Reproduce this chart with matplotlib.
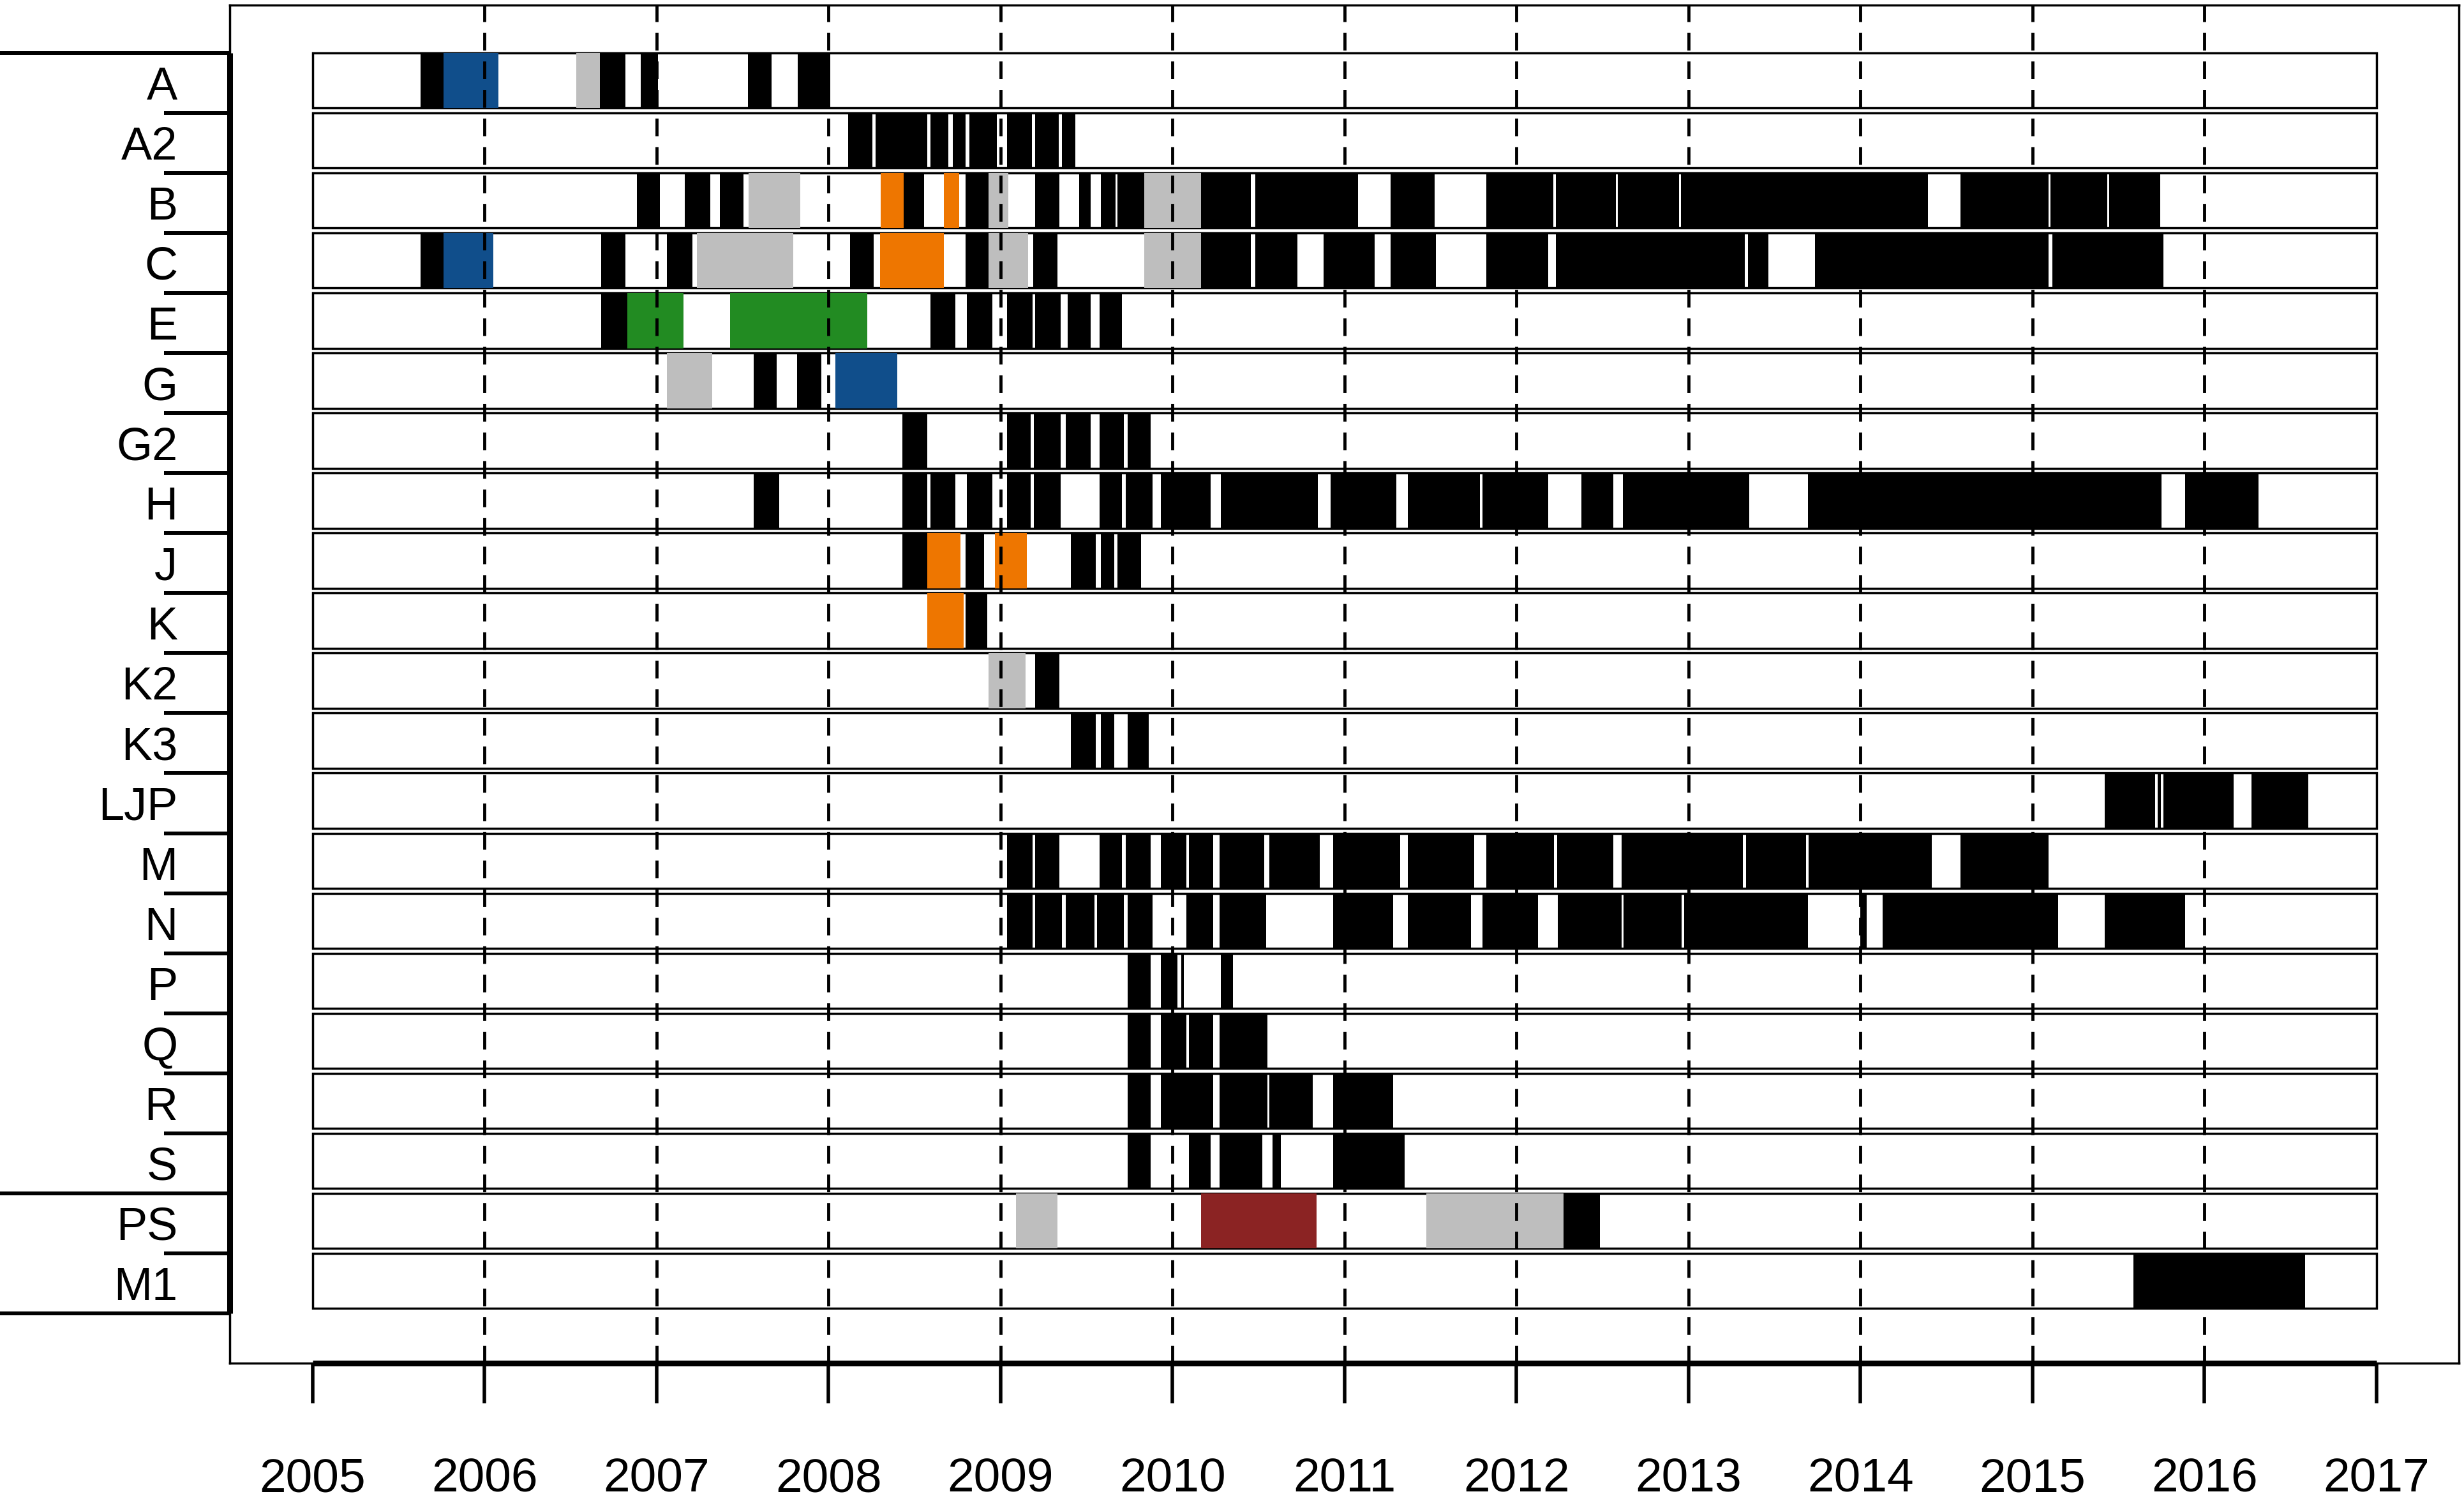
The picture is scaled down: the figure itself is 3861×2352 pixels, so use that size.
import matplotlib
matplotlib.use("Agg")
import matplotlib.pyplot as plt

plt.rcParams["font.family"] = ["Liberation Sans", "DejaVu Sans"]

# rows top to bottom
rows = ["A", "A2", "B", "C", "E", "G", "G2", "H", "J", "K", "K2", "K3",
        "LJP", "M", "N", "P", "Q", "R", "S", "PS", "M1"]
# last row of each group (long separator line below it)
group_ends = ["S", "M1"]
years = list(range(2005, 2018))
year_start, year_end = 2005, 2017

# black periods per row (start, end) in decimal years
black_A = [(2005.63, 2005.76), (2006.67, 2006.82), (2006.91, 2007.01), (2007.53, 2007.67),
           (2007.82, 2008.01)]
black_A2 = [(2008.115, 2008.255), (2008.274, 2008.573), (2008.593, 2008.698), (2008.721, 2008.798),
            (2008.818, 2008.977), (2009.040, 2009.183), (2009.202, 2009.338), (2009.358, 2009.435)]
black_B = [(2006.885, 2007.021), (2007.164, 2007.312), (2007.37, 2007.506), (2008.438, 2008.554),
           (2008.798, 2008.93), (2009.202, 2009.342), (2009.459, 2009.525), (2009.583, 2009.668),
           (2009.68, 2009.835), (2010.165, 2010.456), (2010.48, 2011.078), (2011.27, 2011.524),
           (2011.826, 2012.215), (2012.23, 2012.578), (2012.59, 2012.945), (2012.958, 2014.394),
           (2014.58, 2015.095), (2015.105, 2015.436), (2015.447, 2015.744)]
black_C = [(2005.63, 2005.76), (2006.68, 2006.82), (2007.06, 2007.21), (2008.127, 2008.263),
           (2008.798, 2008.93), (2009.19, 2009.33), (2010.165, 2010.456), (2010.48, 2010.725),
           (2010.88, 2011.175), (2011.27, 2011.53), (2011.826, 2012.183), (2012.23, 2013.327),
           (2013.347, 2013.463), (2013.735, 2015.092), (2015.116, 2015.76)]
black_E = [(2006.68, 2006.83), (2008.593, 2008.736), (2008.806, 2008.954), (2009.04, 2009.187),
           (2009.202, 2009.35), (2009.389, 2009.525), (2009.575, 2009.707)]
black_G = [(2007.564, 2007.70), (2007.816, 2007.96)]
black_G2 = [(2008.43, 2008.573), (2009.04, 2009.175), (2009.195, 2009.35), (2009.38, 2009.525),
            (2009.575, 2009.718), (2009.738, 2009.874)]
black_H = [(2007.564, 2007.712), (2008.43, 2008.573), (2008.593, 2008.736), (2008.806, 2008.954),
           (2009.04, 2009.175), (2009.195, 2009.35), (2009.575, 2009.707), (2009.73, 2009.886),
           (2009.932, 2010.223), (2010.28, 2010.845), (2010.92, 2011.30), (2011.368, 2011.787),
           (2011.803, 2012.183), (2012.377, 2012.563), (2012.618, 2013.355), (2013.696, 2015.752),
           (2015.888, 2016.314)]
black_J = [(2008.43, 2008.573), (2008.798, 2008.903), (2009.408, 2009.555), (2009.583, 2009.66),
           (2009.68, 2009.816)]
black_K = [(2008.798, 2008.923)]
black_K2 = [(2009.202, 2009.342)]
black_K3 = [(2009.408, 2009.555), (2009.583, 2009.66), (2009.738, 2009.862)]
black_LJP = [(2015.42, 2015.713), (2015.73, 2015.745), (2015.76, 2016.17), (2016.275, 2016.605)]
black_M = [(2009.04, 2009.187), (2009.202, 2009.342), (2009.575, 2009.707), (2009.73, 2009.874),
           (2009.932, 2010.08), (2010.095, 2010.235), (2010.274, 2010.534), (2010.565, 2010.856),
           (2010.934, 2011.322), (2011.368, 2011.756), (2011.826, 2012.218), (2012.237, 2012.563),
           (2012.61, 2013.318), (2013.335, 2013.682), (2013.70, 2014.413), (2014.58, 2015.092)]
black_N = [(2009.04, 2009.187), (2009.202, 2009.358), (2009.38, 2009.545), (2009.563, 2009.718),
           (2009.738, 2009.886), (2010.08, 2010.235), (2010.274, 2010.545), (2010.934, 2011.283),
           (2011.368, 2011.737), (2011.803, 2012.125), (2012.241, 2012.61), (2012.621, 2012.959),
           (2012.974, 2013.696), (2014.0, 2014.035), (2014.13, 2015.15), (2015.422, 2015.888)]
black_P = [(2009.738, 2009.874), (2009.932, 2010.03), (2010.05, 2010.065), (2010.282, 2010.352)]
black_Q = [(2009.738, 2009.874), (2009.932, 2010.08), (2010.095, 2010.235), (2010.274, 2010.553)]
black_R = [(2009.738, 2009.874), (2009.932, 2010.235), (2010.274, 2010.553), (2010.565, 2010.817),
           (2010.934, 2011.283)]
black_S = [(2009.738, 2009.874), (2010.095, 2010.22), (2010.274, 2010.522), (2010.58, 2010.63),
           (2010.934, 2011.35)]
black_PS = [(2012.272, 2012.486)]
black_M1 = [(2015.589, 2016.586)]

# coloured periods (row, start, end)
gray_spans = [("A", 2006.535, 2006.67), ("B", 2007.537, 2007.836), ("B", 2008.93, 2009.047),
              ("B", 2009.835, 2010.165), ("C", 2007.234, 2007.797), ("C", 2008.93, 2009.16),
              ("C", 2009.835, 2010.165), ("G", 2007.06, 2007.323), ("K2", 2008.93, 2009.147),
              ("PS", 2009.09, 2009.33), ("PS", 2011.477, 2012.272)]
blue_spans = [("A", 2005.76, 2006.08), ("C", 2005.76, 2006.05), ("G", 2008.04, 2008.399)]
orange_spans = [("B", 2008.302, 2008.438), ("B", 2008.67, 2008.76), ("C", 2008.30, 2008.67),
                ("J", 2008.573, 2008.767), ("J", 2008.969, 2009.155), ("K", 2008.573, 2008.787)]
green_spans = [("E", 2006.83, 2007.157), ("E", 2007.428, 2008.224)]
red_spans = [("PS", 2010.165, 2010.837)]

black_spans = [black_A, black_A2, black_B, black_C, black_E, black_G, black_G2, black_H,
               black_J, black_K, black_K2, black_K3, black_LJP, black_M, black_N, black_P,
               black_Q, black_R, black_S, black_PS, black_M1]

COLORS = {
    "gray":   "#BEBEBE",
    "blue":   "#104E8B",
    "orange": "#EE7600",
    "green":  "#228B22",
    "red":    "#8B2323",
}

ROW_H = 0.92  # bar height, top aligned with row boundary

fig = plt.figure(figsize=(38.62, 23.52), dpi=100, facecolor="white")
ax = fig.add_axes([0.0933, 0.0918, 0.9044, 0.9050])
ax.set_xlim(2004.52, 2017.48)
ax.set_ylim(21.33, -1.30)

idx = {r: i for i, r in enumerate(rows)}

# white row boxes
ax.barh([i - 0.5 for i in range(len(rows))], year_end - year_start, height=ROW_H,
        left=year_start, align="edge", color="white", edgecolor="black",
        linewidth=2.5, zorder=2)

# black periods
for i, spans in enumerate(black_spans):
    ax.broken_barh([(s, e - s) for s, e in spans], (i - 0.5, ROW_H),
                   facecolors="black", linewidth=0, zorder=3)

# coloured periods
for spans, key in [(gray_spans, "gray"), (blue_spans, "blue"), (orange_spans, "orange"),
                   (green_spans, "green"), (red_spans, "red")]:
    for r, s, e in spans:
        ax.broken_barh([(s, e - s)], (idx[r] - 0.5, ROW_H),
                       facecolors=COLORS[key], linewidth=0, zorder=3)

# dashed year lines
for y in years[1:-1]:
    ax.axvline(y, color="black", linewidth=3.5, linestyle=(0, (5.7, 3.5)), zorder=5)

# box
for sp in ax.spines.values():
    sp.set_linewidth(2.5)

# x axis (R style: thick line from first to last tick)
ax.plot([year_start, year_end], [0, 0], transform=ax.get_xaxis_transform(),
        color="black", linewidth=6.5, solid_capstyle="butt", clip_on=False, zorder=6)
ax.set_xticks(years)
ax.set_xticklabels([str(y) for y in years])
ax.tick_params(axis="x", which="major", direction="out", length=45, width=4,
               pad=61, labelsize=54)

# y axis: labels at row centres, separator lines at row boundaries
ax.set_yticks(range(len(rows)))
ax.set_yticklabels(rows)
ax.tick_params(axis="y", which="major", length=0, pad=59, labelsize=52)
ax.plot([0, 0], [-0.5, len(rows) - 0.5], transform=ax.get_yaxis_transform(),
        color="black", linewidth=6.5, solid_capstyle="butt", clip_on=False, zorder=6)
boundaries = [-0.5] + [i + 0.5 for i in range(len(rows))]
long_b = [-0.5] + [idx[r] + 0.5 for r in group_ends]
for b in boundaries:
    x0 = -0.1035 if b in long_b else -0.0295
    ax.plot([x0, 0], [b, b], transform=ax.get_yaxis_transform(),
            color="black", linewidth=4.3, solid_capstyle="butt", clip_on=False, zorder=6)

fig.savefig("out.png", dpi=100, facecolor="white")
